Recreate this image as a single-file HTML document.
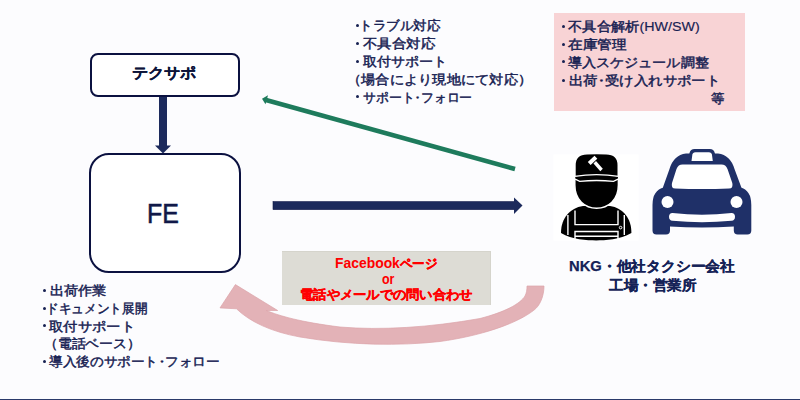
<!DOCTYPE html>
<html><head><meta charset="utf-8">
<style>
html,body{margin:0;padding:0;}
body{width:800px;height:400px;overflow:hidden;background:#fcfcfe;position:relative;font-family:"Liberation Sans",sans-serif;color:#0e1540;}
.box{position:absolute;box-sizing:border-box;background:#fff;border:2px solid #0b1140;}
.bg{position:absolute;}
.ln{position:absolute;white-space:nowrap;transform-origin:0 0;}
.n{font-size:13px;line-height:13px;color:#172152;-webkit-text-stroke:0.45px #172152;}
.b15{font-size:15px;line-height:15px;font-weight:bold;color:#0c133a;-webkit-text-stroke:0.2px #0c133a;}
.fe{font-size:28.5px;line-height:28.5px;color:#101848;-webkit-text-stroke:0.6px #101848;}
.rd{font-size:13px;line-height:13px;color:#ff0000;font-weight:bold;-webkit-text-stroke:0.35px #ff0000;}
.rd .big{-webkit-text-stroke:0;}
.nk{font-size:14px;line-height:14px;color:#152257;font-weight:bold;-webkit-text-stroke:0.25px #152257;}
.md{margin:0 -0.25em;}
.lat{-webkit-text-stroke:0.15px #172152;}
.big{font-size:14.5px;}
.dt{position:absolute;width:3px;height:3px;border-radius:50%;background:#172152;}
svg.full{position:absolute;left:0;top:0;}
</style></head><body>

<svg class="full" width="800" height="400" viewBox="0 0 800 400">
  <line x1="515" y1="169" x2="266" y2="100" stroke="#1e7b5c" stroke-width="4.6"/>
  <polygon points="262,98.8 268,95.2 265.5,104.3" fill="#1e7b5c"/>
  <rect x="273" y="201.6" width="242" height="8" fill="#1c2a5c" stroke="#0f1848" stroke-width="0.6"/>
  <polygon points="514,197.5 522.5,205.5 514,214" fill="#1c2a5c"/>
  <rect x="159" y="97" width="8" height="49" fill="#1c2a5c"/>
  <polygon points="155,145.6 171,145.6 163,153.5" fill="#1c2a5c"/>

  <!-- pink curved arrow -->
  <path d="M527,286 L544,286 C544,296 540,306 533.5,310.5 C516,324 480,336 440,341.5 C400,346 350,345.5 300,337 C272,332 250,322 236.5,308.8 L220,307.9 L235.4,284.6 L277.7,310.5 L266.2,310.5 C280,316 300,322 340,327 C380,330.5 430,327.5 480,318.5 C505,312 520,304 525,296 C526.5,293 527,290 527,286 Z" fill="#e3b2b7" stroke="#dba3a9" stroke-width="0.7"/>
  <!-- worker icon -->
  <rect x="553.5" y="154.5" width="85.2" height="86" fill="#ffffff"/>
  <g fill="#000">
    <path d="M561,233 C561,218 570,208 583,206 L610,206 C623,208 631.4,218 631.4,233 C620,239.5 605,240.4 596.2,240.4 C587,240.4 572,239.5 561,233 Z"/>
    <path d="M574.8,178 L574.8,185 C574.8,200 585,208.3 596.6,208.3 C608.2,208.3 618.4,200 618.4,185 L618.4,178 Z" stroke="#fff" stroke-width="1.5"/>
    <path d="M575.7,176 L575.7,165 Q575.7,154.6 587,154.4 Q596.6,154 606.2,154.4 Q617.5,154.6 617.5,165 L617.5,176 Z"/><path d="M574.6,176.4 Q596.6,172.8 618.6,176.4 L618.6,178.8 L613.5,181.4 Q596.6,179.6 579.7,181.4 L574.6,178.8 Z" stroke="#fff" stroke-width="1.3"/>
  </g>
  <g stroke="#fff" stroke-width="1.4" fill="none">
    <path d="M567.9,215 L567.9,235"/>
    <path d="M624.3,215 L624.3,235"/>
    <path d="M575,210.5 L575,224.6 L618,224.6 L618,210.5"/>
    <path d="M575,240 L575,231.5 L618,231.5 L618,240"/>
    <path d="M575,236.2 L618,236.2"/>
    <circle cx="620.6" cy="227.6" r="1.3" stroke-width="1"/>
  </g>
  <g fill="#fff">
    <path d="M593.5,163.5 L596,161 L602.8,168.8 L600.3,171.3 Z"/>
    <path d="M587.8,162 L594.5,155.8 L597.3,158.8 L590.6,165 Z"/>
  </g>
  <!-- taxi icon -->
  <g fill="#1f3068">
    <path d="M688,161 L689.5,153 Q690.5,149.1 694.5,149.1 L709.8,149.1 Q713.8,149.1 714.8,153 L716.3,161 Z"/>
    <path d="M662,190 L669.5,169 Q673.5,155 686,153.4 L718,153.4 Q730.5,155 734.5,169 L742.3,190 Z"/>
    <path d="M652.5,205 Q652.5,190 664,187.5 L740.3,187.5 Q751.3,190 751.3,205 L751.3,230.5 Q751.3,234.5 747.3,234.5 L737.8,234.5 Q733.8,234.5 733.8,230.5 L733.8,226.5 Q702,228.5 670,226.5 L670,230.5 Q670,234.5 666,234.5 L656.5,234.5 Q652.5,234.5 652.5,230.5 Z"/>
  </g>
  <g fill="#fff">
    <path d="M692.2,155.8 Q692.2,152.2 695.5,152.2 L708.8,152.2 Q712.1,152.2 712.1,155.8 L712.8,161 L691.5,161 Z"/>
    <path d="M672,183 L676.5,169 Q678.3,164.6 682.5,164.6 L721.5,164.6 Q725.7,164.6 727.5,169 L732.3,183 Q733.5,188.5 729,188.6 Q702,189.6 675.3,188.6 Q670.8,188.5 672,183 Z"/>
    <circle cx="667.5" cy="202" r="6"/>
    <circle cx="736.5" cy="202" r="6"/>
    <path d="M672.5,213 Q702,216.5 731.5,213 Q735,213 735,216.8 Q735,220.5 731.5,220.8 Q702,223.5 672.5,220.8 Q669,220.5 669,216.8 Q669,213 672.5,213 Z"/>
  </g>
</svg>

<div class="box" style="left:89.5px;top:53px;width:150.5px;height:44px;border-radius:8px;"></div>
<div class="box" style="left:88.5px;top:152.5px;width:152px;height:120px;border-radius:20px;"></div>

<div class="bg" style="left:553.5px;top:13px;width:191.5px;height:97.5px;background:#f8d3d5;"></div>
<div class="bg" style="left:282px;top:251px;width:209px;height:54px;background:#dddcd5;box-shadow:inset 0 1px 0 #d5d4cc,inset -1px 0 0 #d5d4cc;"></div>

<!--DOTS-->
<div class="dt" style="left:356.40px;top:23.60px"></div>
<div class="dt" style="left:356.40px;top:41.60px"></div>
<div class="dt" style="left:356.40px;top:59.60px"></div>
<div class="dt" style="left:356.40px;top:95.40px"></div>
<div class="dt" style="left:561.60px;top:24.60px"></div>
<div class="dt" style="left:561.60px;top:42.60px"></div>
<div class="dt" style="left:561.60px;top:60.40px"></div>
<div class="dt" style="left:561.60px;top:78.75px"></div>
<div class="dt" style="left:42.80px;top:288.50px"></div>
<div class="dt" style="left:42.80px;top:306.75px"></div>
<div class="dt" style="left:42.80px;top:324.40px"></div>
<div class="dt" style="left:42.80px;top:360.10px"></div>

<div class="ln b15" id="tk" style="left:132.00px;top:65.00px;transform:scaleX(1.0757);">テクサポ</div>
<div class="ln n" id="m1" style="left:358.84px;top:18.80px;transform:scaleX(1.0417);">トラブル対応</div>
<div class="ln n" id="m2" style="left:363.41px;top:36.80px;transform:scaleX(1.1150);">不具合対応</div>
<div class="ln n" id="m3" style="left:363.00px;top:54.80px;transform:scaleX(1.0820);">取付サポート</div>
<div class="ln n" id="m4" style="left:347.26px;top:72.80px;transform:scaleX(1.0949);">（場合により現地にて対応）</div>
<div class="ln n" id="m5" style="left:363.00px;top:90.60px;transform:scaleX(0.9885);">サポート<span class="md">・</span>フォロー</div>
<div class="ln n" id="p1" style="left:568.42px;top:19.80px;transform:scaleX(1.0993);">不具合解析<span class="lat">(HW/SW)</span></div>
<div class="ln n" id="p2" style="left:568.41px;top:37.80px;transform:scaleX(1.1243);">在庫管理</div>
<div class="ln n" id="p3" style="left:568.40px;top:55.60px;transform:scaleX(1.0824);">導入スケジュール調整</div>
<div class="ln n" id="p4" style="left:568.96px;top:73.95px;transform:scaleX(1.1082);">出荷<span class="md">・</span>受け入れサポート</div>
<div class="ln n" id="p5" style="left:711.00px;top:91.90px;transform:scaleX(1.0305);">等</div>
<div class="ln n" id="b1" style="left:49.63px;top:283.70px;transform:scaleX(1.0880);">出荷作業</div>
<div class="ln n" id="b2" style="left:45.86px;top:301.95px;transform:scaleX(0.9733);">ドキュメント展開</div>
<div class="ln n" id="b3" style="left:49.00px;top:319.60px;transform:scaleX(1.1029);">取付サポート</div>
<div class="ln n" id="b4" style="left:44.45px;top:337.40px;transform:scaleX(1.0639);">（電話ベース）</div>
<div class="ln n" id="b5" style="left:48.99px;top:355.30px;transform:scaleX(1.0494);">導入後のサポート<span class="md">・</span>フォロー</div>
<div class="ln rd" id="r1" style="left:334.81px;top:256.60px;transform:scaleX(0.9580);"><span class="big">Facebook</span>ページ</div>
<div class="ln rd" id="r2" style="left:381.51px;top:273.00px;transform:scaleX(0.8585);"><span class="big">or</span></div>
<div class="ln rd" id="r3" style="left:299.78px;top:287.80px;transform:scaleX(1.0211);">電話やメールでの問い合わせ</div>
<div class="ln nk" id="n1" style="left:568.98px;top:259.20px;transform:scaleX(1.0558);">NKG・他社タクシー会社</div>
<div class="ln nk" id="n2" style="left:608.96px;top:278.00px;transform:scaleX(1.0391);">工場・営業所</div>
<div class="ln fe" id="fe" style="left:147.47px;top:199.00px;transform:scaleX(0.8735);">FE</div>

<div class="bg" style="left:0;top:398.5px;width:800px;height:1.5px;background:#2a3a6a;"></div>
</body></html>
